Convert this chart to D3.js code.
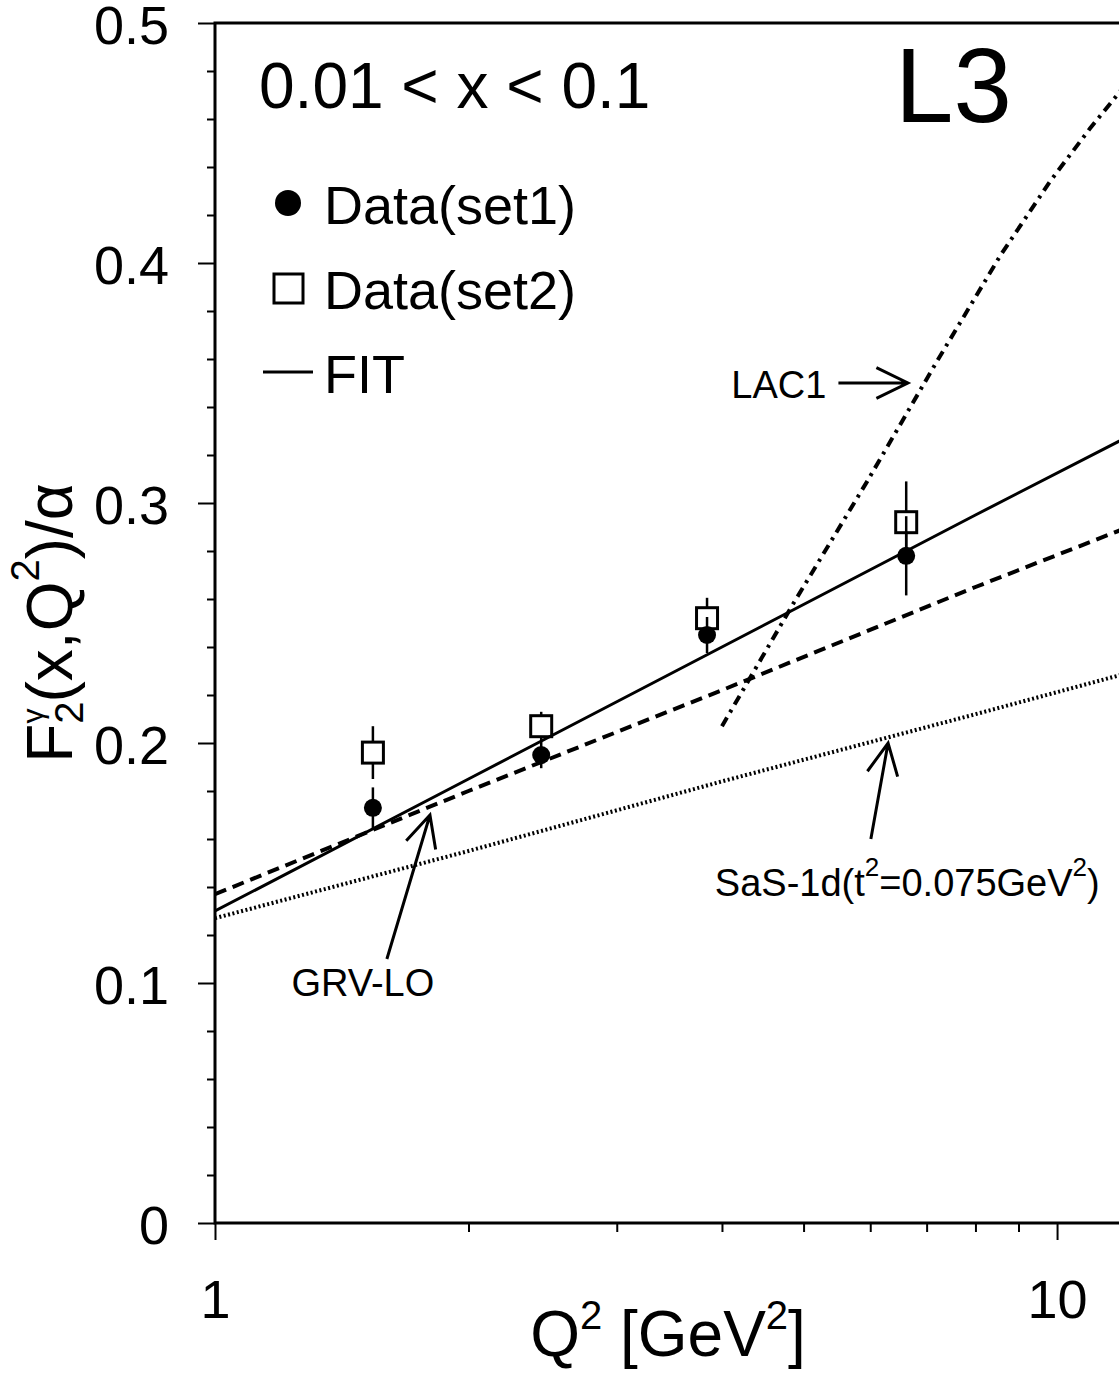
<!DOCTYPE html>
<html lang="en">
<head>
<meta charset="UTF-8">
<script src="https://d3js.org/d3.v7.min.js"></script>
<title>F2 photon structure function</title>
<style>
  body { margin: 0; background: #fff; }
  svg { display: block; font-family: "Liberation Sans", Arial, sans-serif; }
</style>
</head>
<body>
<script>
// values
const q2Points = [1.54, 2.44, 3.84, 6.62]
const f2Set1 = [0.173, 0.195, 0.245, 0.278]
const errSet1 = [0.0085, 0.0055, 0.0075, 0.0165]
const f2Set2 = [0.196, 0.207, 0.252, 0.292]
const errSet2 = [0.011, 0.006, 0.0085, 0.017]

const fitQ2 = [1, 2, 4, 8, 13]
const fitF2 = [0.130, 0.185, 0.240, 0.295, 0.333]
const grvQ2 = [1, 2, 4, 8, 13]
const grvF2 = [0.137, 0.180, 0.222, 0.265, 0.294]
const sasQ2 = [1, 2, 4, 8, 13]
const sasF2 = [0.127, 0.155, 0.184, 0.212, 0.232]
const lacQ2 = [4.0, 4.86, 5.95, 7.20, 8.56, 9.81, 10.94, 11.85, 12.0]
const lacF2 = [0.207, 0.258, 0.309, 0.359, 0.403, 0.434, 0.456, 0.471, 0.4735]

const xMajor = [1, 10]
const xMinor = [2, 3, 4, 5, 6, 7, 8, 9]
const yMajor = [0, 0.1, 0.2, 0.3, 0.4, 0.5]
const yMinor = [0.02, 0.04, 0.06, 0.08, 0.12, 0.14, 0.16, 0.18, 0.22, 0.24, 0.26, 0.28,
                0.32, 0.34, 0.36, 0.38, 0.42, 0.44, 0.46, 0.48]

// arrows: tail -> tip, in (Q2, F2)
const arrowNames = ["LAC1", "GRV-LO", "SaS"]
const arrowTail = [[5.50, 0.350], [1.60, 0.110], [6.01, 0.160]]
const arrowTip = [[6.65, 0.350], [1.80, 0.170], [6.30, 0.200]]

const width = 1119, height = 1375

const x = d3.scaleLog().domain([1, 13]).range([215, 1153])
const y = d3.scaleLinear().domain([0, 0.5]).range([1223, 23])

const svg = d3.select("body").append("svg")
    .attr("width", width)
    .attr("height", height)
svg.append("rect").attr("width", width).attr("height", height).attr("fill", "#fff")

svg.append("defs").append("clipPath").attr("id", "plot")
  .append("rect")
    .attr("x", x(1)).attr("y", y(0.5))
    .attr("width", x(13) - x(1)).attr("height", y(0) - y(0.5))

/* axes */
const yAxis = svg.append("g").attr("transform", `translate(${x(1)},0)`)
yAxis.call(d3.axisLeft(y).tickValues(yMajor).tickSize(17).tickPadding(29).tickFormat(d3.format("")))
yAxis.append("g").call(d3.axisLeft(y).tickValues(yMinor).tickSize(8).tickFormat(""))
yAxis.selectAll(".domain").remove()
yAxis.selectAll("line").attr("stroke-width", 2)
yAxis.selectAll("text").style("font-size", "54px").attr("fill", "#000").attr("dy", "0.38em")

const xAxis = svg.append("g").attr("transform", `translate(0,${y(0)})`)
xAxis.call(d3.axisBottom(x).tickValues(xMajor).tickSize(17).tickPadding(40).tickFormat(d3.format("")))
xAxis.append("g").call(d3.axisBottom(x).tickValues(xMinor).tickSize(9).tickFormat(""))
xAxis.selectAll(".domain").remove()
xAxis.selectAll("line").attr("stroke-width", 2)
xAxis.selectAll("text").style("font-size", "54px").attr("fill", "#000")

// frame
const frame = d3.path()
frame.moveTo(x(1), y(0)); frame.lineTo(x(1), y(0.5)); frame.lineTo(x(13), y(0.5))
frame.lineTo(x(13), y(0)); frame.closePath()
svg.append("path").attr("d", frame.toString())
    .attr("fill", "none").attr("stroke", "#000").attr("stroke-width", 3)

/* curves */
const line = d3.line().x(d => x(d[0])).y(d => y(d[1]))
const curves = [
  { q: sasQ2, f: sasF2, dash: "2 2.5", w: 4 },
  { q: grvQ2, f: grvF2, dash: "12 7", w: 4 },
  { q: fitQ2, f: fitF2, dash: null, w: 3 },
  { q: lacQ2, f: lacF2, dash: "10 6 3 6", w: 4 }
]
const curveG = svg.append("g").attr("clip-path", "url(#plot)")
curves.forEach(c => {
  curveG.append("path")
      .attr("d", line(d3.zip(c.q, c.f)))
      .attr("fill", "none")
      .attr("stroke", "#000")
      .attr("stroke-width", c.w)
      .attr("stroke-dasharray", c.dash)
})

/* data points */
const sq = 21
const pts = svg.append("g")
q2Points.forEach((q, i) => {
  const cx = x(q)
  // set2: squares, bars start at the box edge
  const cy2 = y(f2Set2[i])
  pts.append("line").attr("x1", cx).attr("x2", cx)
      .attr("y1", cy2 - sq / 2).attr("y2", y(f2Set2[i] + errSet2[i]))
  pts.append("line").attr("x1", cx).attr("x2", cx)
      .attr("y1", cy2 + sq / 2).attr("y2", y(f2Set2[i] - errSet2[i]))
  pts.append("rect").attr("x", cx - sq / 2).attr("y", cy2 - sq / 2)
      .attr("width", sq).attr("height", sq)
      .attr("fill", "none").attr("stroke", "#000").attr("stroke-width", 3)
  // set1: filled circles
  pts.append("line").attr("x1", cx).attr("x2", cx)
      .attr("y1", y(f2Set1[i] + errSet1[i])).attr("y2", y(f2Set1[i] - errSet1[i]))
  pts.append("circle").attr("cx", cx).attr("cy", y(f2Set1[i])).attr("r", 9).attr("fill", "#000")
})
pts.selectAll("line").attr("stroke", "#000").attr("stroke-width", 2.5)

/* arrows + labels */
function arrow(tail, tip) {
  const ax = x(tail[0]), ay = y(tail[1]), bx = x(tip[0]), by = y(tip[1])
  const ang = Math.atan2(ay - by, ax - bx)
  const len = 35, spread = 26 * Math.PI / 180
  const p = d3.path()
  p.moveTo(ax, ay); p.lineTo(bx, by)
  p.moveTo(bx + len * Math.cos(ang + spread), by + len * Math.sin(ang + spread))
  p.lineTo(bx, by)
  p.lineTo(bx + len * Math.cos(ang - spread), by + len * Math.sin(ang - spread))
  svg.append("path").attr("d", p.toString())
      .attr("fill", "none").attr("stroke", "#000").attr("stroke-width", 3)
}
arrowNames.forEach((n, i) => arrow(arrowTail[i], arrowTip[i]))

const ann = svg.append("g").style("font-size", "38px").attr("fill", "#000")
ann.append("text")
    .attr("x", x(arrowTail[0][0]) - 12).attr("y", y(arrowTail[0][1]) + 15)
    .attr("text-anchor", "end").text("LAC1")
ann.append("text")
    .attr("x", x(arrowTail[1][0]) - 24).attr("y", y(arrowTail[1][1]) + 37)
    .attr("text-anchor", "middle").text("GRV-LO")
const sasText = ann.append("text")
    .attr("x", x(arrowTail[2][0]) - 156).attr("y", y(arrowTail[2][1]) + 57)
sasText.append("tspan").text("SaS-1d(t")
sasText.append("tspan").attr("dy", -20).style("font-size", "26px").text("2")
sasText.append("tspan").attr("dy", 20).text("=0.075GeV")
sasText.append("tspan").attr("dy", -20).style("font-size", "26px").text("2")
sasText.append("tspan").attr("dy", 20).text(")")

/* header + legend */
svg.append("text").attr("x", 259).attr("y", 108)
    .style("font-size", "64px").text("0.01 < x < 0.1")
svg.append("text").attr("x", 895).attr("y", 122)
    .style("font-size", "105px").text("L3")

const legend = svg.append("g").style("font-size", "54px")
legend.append("circle").attr("cx", 288).attr("cy", 203).attr("r", 13).attr("fill", "#000")
legend.append("text").attr("x", 324).attr("y", 224).text("Data(set1)")
legend.append("rect").attr("x", 274).attr("y", 274).attr("width", 29).attr("height", 29)
    .attr("fill", "none").attr("stroke", "#000").attr("stroke-width", 3)
legend.append("text").attr("x", 324).attr("y", 309).text("Data(set2)")
legend.append("line").attr("x1", 263).attr("x2", 313).attr("y1", 372).attr("y2", 372)
    .attr("stroke", "#000").attr("stroke-width", 3)
legend.append("text").attr("x", 324).attr("y", 393).text("FIT")

/* axis titles */
const xt = svg.append("text").attr("x", 668).attr("y", 1356)
    .attr("text-anchor", "middle").style("font-size", "64px")
xt.append("tspan").text("Q")
xt.append("tspan").attr("dy", -27).style("font-size", "40px").text("2")
xt.append("tspan").attr("dy", 27).text(" [GeV")
xt.append("tspan").attr("dy", -27).style("font-size", "40px").text("2")
xt.append("tspan").attr("dy", 27).text("]")

const yt = svg.append("text")
    .attr("transform", `translate(72,${(y(0) + y(0.5)) / 2}) rotate(-90)`)
    .attr("text-anchor", "middle").style("font-size", "64px")
yt.append("tspan").text("F")
yt.append("tspan").attr("dy", 11).style("font-size", "40px").text("2")
yt.append("tspan").attr("dx", -22).attr("dy", -40).style("font-size", "30px").text("γ")
yt.append("tspan").attr("dx", 6).attr("dy", 29).text("(x,Q")
yt.append("tspan").attr("dy", -33).style("font-size", "40px").text("2")
yt.append("tspan").attr("dy", 33).text(")/α")
</script>
</body>
</html>
